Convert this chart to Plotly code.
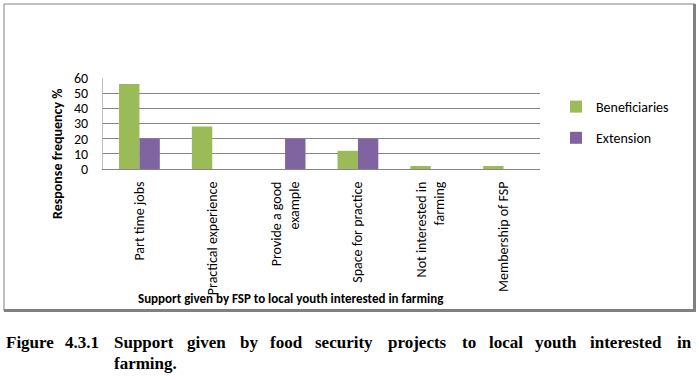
import plotly.graph_objects as go

categories = ["Part time jobs", "Practical experience", "Provide a good<br>example",
              "Space for practice", "Not interested in<br>farming", "Membership of FSP"]
beneficiaries = [56, 28, 0, 12, 2, 2]
extension = [20, 0, 20, 20, 0, 0]
y_ticks = [0, 10, 20, 30, 40, 50, 60]

W, H = 699, 380
# plot area in window pixels
L, R, T, B = 103, 540, 78, 169


def px(x):
    return (x - L) / (R - L)


def py(y):
    return (B - y) / (B - T)


FONT = "Carlito, Calibri, Lato, sans-serif"
SERIF = "Liberation Serif, Times New Roman, serif"

fig = go.Figure()
fig.add_trace(go.Bar(name="Beneficiaries", x=categories, y=beneficiaries, legendgroup="b",
                     marker=dict(color="#9BBB59", line=dict(width=0))))
fig.add_trace(go.Bar(name="Extension", x=categories, y=extension, legendgroup="e",
                     marker=dict(color="#8064A2", line=dict(width=0))))

shapes = []
grey = "#808080"
shapes.append(dict(type="line", xref="paper", yref="paper", x0=px(4), x1=px(4), y0=py(4), y1=py(311),
                   line=dict(color=grey, width=1)))
shapes.append(dict(type="line", xref="paper", yref="paper", x0=px(4), x1=px(695), y0=py(4), y1=py(4),
                   line=dict(color=grey, width=1)))
shapes.append(dict(type="line", xref="paper", yref="paper", x0=px(694.5), x1=px(694.5), y0=py(4), y1=py(312),
                   line=dict(color=grey, width=3)))
shapes.append(dict(type="line", xref="paper", yref="paper", x0=px(4), x1=px(696), y0=py(310.5), y1=py(310.5),
                   line=dict(color=grey, width=3)))

annotations = []
annotations.append(dict(text="<b>Response frequency %</b>", xref="paper", yref="paper",
                        x=px(57), y=py(154), textangle=-90, showarrow=False,
                        font=dict(family=FONT, size=14, color="#000000"),
                        xanchor="center", yanchor="middle"))
annotations.append(dict(text="<b>Support given by FSP to local youth interested in farming</b>",
                        xref="paper", yref="paper", x=px(291), y=py(298), showarrow=False,
                        font=dict(family=FONT, size=13, color="#000000"),
                        xanchor="center", yanchor="middle"))

words = ["Figure", "4.3.1", "Support", "given", "by", "food", "security", "projects",
         "to", "local", "youth", "interested", "in"]
word_x = [4, 63, 112, 185, 238, 268, 313, 386, 460, 487, 533, 588, 675]
for wd, wx in zip(words, word_x):
    annotations.append(dict(text="<b>" + wd + "</b>", xref="paper", yref="paper",
                            x=px(wx), y=py(342), showarrow=False, xanchor="left", yanchor="middle",
                            font=dict(family=SERIF, size=17, color="#000000")))
annotations.append(dict(text="<b>farming.</b>", xref="paper", yref="paper",
                        x=px(112), y=py(363), showarrow=False, xanchor="left", yanchor="middle",
                        font=dict(family=SERIF, size=17, color="#000000")))

fig.update_layout(
    width=W, height=H,
    margin=dict(l=L, r=W - R, t=T, b=H - B, pad=0),
    paper_bgcolor="white", plot_bgcolor="white",
    barmode="group", bargap=0.44, bargroupgap=0,
    showlegend=True,
    legend=dict(x=px(556), y=py(91), xanchor="left", yanchor="top",
                font=dict(family=FONT, size=14, color="#000000"),
                tracegroupgap=10, itemwidth=30, bgcolor="rgba(0,0,0,0)",
                traceorder="grouped"),
    font=dict(family=FONT, size=14, color="#000000"),
    shapes=shapes, annotations=annotations,
    xaxis=dict(tickangle=-90, showgrid=False, showline=True, linecolor="#868686", linewidth=1,
               ticks="", tickfont=dict(family=FONT, size=14, color="#000000"),
               ticklabelstandoff=6, fixedrange=True),
    yaxis=dict(range=[0, 60], tickvals=y_ticks, showgrid=True, gridcolor="#868686", gridwidth=1,
               showline=True, linecolor="#BFBFBF", linewidth=1, zeroline=False,
               ticks="", tickfont=dict(family=FONT, size=14, color="#000000"),
               ticklabelstandoff=11, fixedrange=True),
)

fig.write_html("out.html", config={"displayModeBar": False},
               post_script="document.body.style.margin='0';document.body.style.overflow='hidden';")
